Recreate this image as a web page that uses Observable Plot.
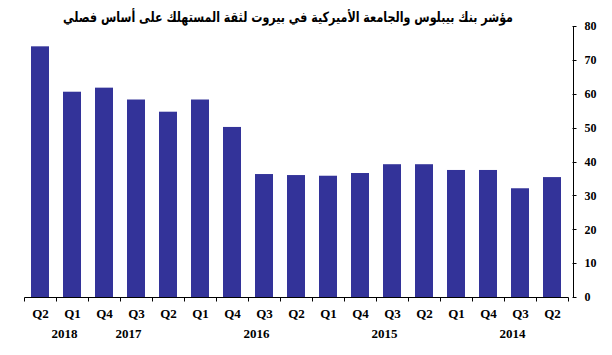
<!DOCTYPE html>
<html>
<head>
<meta charset="utf-8">
<script src="https://cdn.jsdelivr.net/npm/d3@7"></script>
<script src="https://cdn.jsdelivr.net/npm/@observablehq/plot@0.6"></script>
<style>
  html, body { margin: 0; padding: 0; background: #fff; }
  #wrap { position: relative; width: 612px; height: 355px; }
  #title { position: absolute; top: 7px; right: 99px; direction: rtl; font-family: "DejaVu Sans", sans-serif; font-weight: bold; font-size: 14px; line-height: 20px; color: #000; white-space: nowrap; transform-origin: right center; }
</style>
</head>
<body>
<div id="wrap"><div id="title">مؤشر بنك بيبلوس والجامعة الأميركية في بيروت لثقة المستهلك على أساس فصلي</div></div>
<script>
// Chronological order (Q2 2014 -> Q2 2018)
const quarters = ["Q2","Q3","Q4","Q1","Q2","Q3","Q4","Q1","Q2","Q3","Q4","Q1","Q2","Q3","Q4","Q1","Q2"];
const years    = ["2014","2014","2014","2015","2015","2015","2015","2016","2016","2016","2016","2017","2017","2017","2017","2018","2018"];
const values   = [35.4, 32.1, 37.5, 37.5, 39.2, 39.2, 36.6, 35.8, 36.0, 36.3, 50.2, 58.3, 54.7, 58.3, 61.8, 60.6, 74.0];
const yTicks = [0, 10, 20, 30, 40, 50, 60, 70, 80];
const yearLabels = ["2018", "2017", "2016", "2015", "2014"];
const yearAnchors = ["Q1 2018", "Q3 2017", "Q3 2016", "Q3 2015", "Q3 2014"];

const data = quarters.map((q, i) => ({key: q + " " + years[i], q, year: years[i], value: values[i]}));
const domain = data.map(d => d.key).reverse(); // right-to-left layout
const yearData = yearLabels.map((y, i) => ({year: y, key: yearAnchors[i]}));

const W = 612, H = 355;
const color = "#333399";
const serif = "'Liberation Serif', 'Times New Roman', 'DejaVu Serif', serif";

const boundaryMark = (index, scales, values, dim) => {
  const x = scales.x, y = scales.y;
  const bw = typeof x.bandwidth === "function" ? x.bandwidth() : x.bandwidth;
  const step = x(domain[1]) - x(domain[0]);
  const off = (step - bw) / 2;
  const g = d3.create("svg:g").attr("stroke", "#000").attr("stroke-width", 1).attr("fill", "none");
  const y0 = Math.round(y(0)) + 0.5;
  const bounds = domain.map(d => x(d) - off);
  bounds.push(x(domain[domain.length - 1]) + bw + off);
  bounds.forEach(b => {
    const bx = Math.round(b) + 0.5;
    g.append("line").attr("x1", bx).attr("x2", bx).attr("y1", y0).attr("y2", y0 + 4);
  });
  g.append("line").attr("x1", Math.round(bounds[0]) + 0.5).attr("x2", Math.round(bounds[bounds.length-1]) + 0.5).attr("y1", y0).attr("y2", y0);
  const ax = Math.round(dim.width - dim.marginRight) - 0.5;
  g.append("line").attr("x1", ax).attr("x2", ax).attr("y1", y(80)).attr("y2", y0);
  yTicks.forEach(t => {
    const ty = Math.round(y(t)) + 0.5;
    g.append("line").attr("x1", ax - 1).attr("x2", ax + 3).attr("y1", ty).attr("y2", ty);
  });
  return g.node();
};

const chart = Plot.plot({
  width: W,
  height: H,
  marginTop: 26,
  marginBottom: 58,
  marginLeft: 17,
  marginRight: 38,
  style: {background: "transparent", overflow: "visible"},
  x: {domain, paddingInner: 0.45, paddingOuter: 0.225, axis: null},
  y: {domain: [0, 80], axis: null},
  marks: [
    Plot.barY(data, {x: "key", y: "value", fill: color}),
    boundaryMark,
    Plot.text(yTicks, {y: d => d, text: d => String(d), frameAnchor: "right", textAnchor: "start", dx: 10, fontFamily: serif, fontWeight: "bold", fontSize: 12, fill: "#000"}),
    Plot.text(data, {x: "key", y: 0, text: "q", dy: 16, fontFamily: serif, fontWeight: "bold", fontSize: 13, fill: "#000"}),
    Plot.text(yearData, {x: "key", y: 0, text: "year", dy: 36, dx: -8, fontFamily: serif, fontWeight: "bold", fontSize: 13, fill: "#000"})
  ]
});
document.getElementById("wrap").prepend(chart);
chart.style.position = "absolute";
chart.style.left = "0";
chart.style.top = "0";

const title = document.getElementById("title");
const tw = title.getBoundingClientRect().width;
const targetW = 450;
if (tw > 0) title.style.transform = `scaleX(${targetW / tw})`;
</script>
</body>
</html>
